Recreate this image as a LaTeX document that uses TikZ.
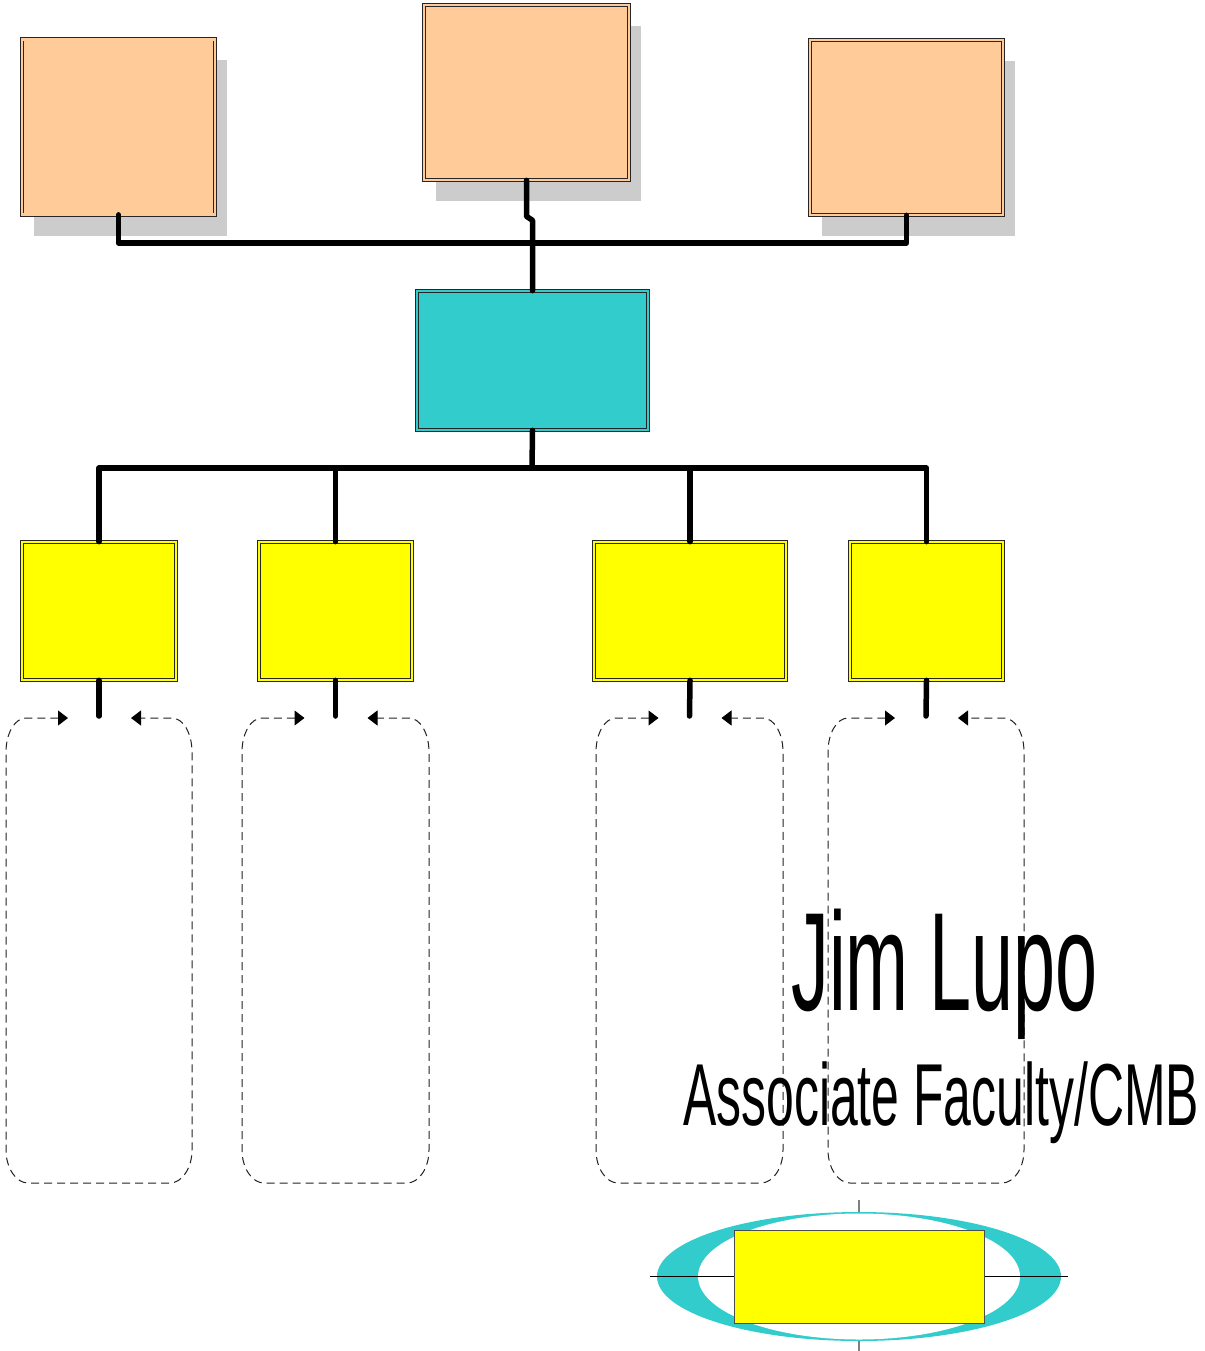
\documentclass[tikz,border=0pt]{standalone}
\usepackage{fontspec}
\setmainfont{Liberation Sans}
\usetikzlibrary{shadows,arrows.meta,calc}
\definecolor{peach}{HTML}{FFCC99}
\definecolor{teal}{HTML}{33CCCC}
\definecolor{lemon}{HTML}{FFFF00}
\definecolor{shade}{HTML}{CCCCCC}
\definecolor{lanegray}{HTML}{222222}
\tikzset{
  box/.style={rectangle, inner sep=0pt, draw=black!85, line width=0.7pt, double distance=2.6pt},
  peachbox/.style={box, fill=peach, double=peach,
    drop shadow={shadow xshift=12pt, shadow yshift=-21pt, fill=shade, opacity=1}},
  tealbox/.style={box, fill=teal, double=teal},
  lemonbox/.style={box, fill=lemon, double=lemon},
  conn/.style={line width=5.5pt, line cap=round, line join=round},
  lane/.style={draw=lanegray, line width=1pt, dash pattern=on 8pt off 5pt,
    {Triangle[length=10pt,width=15pt,black]}-{Triangle[length=10pt,width=15pt,black]}},
}
\begin{document}
\begin{tikzpicture}[x=1pt,y=-1pt]
\useasboundingbox (0,0) rectangle (1204,1351);

% upper tier
\node[peachbox, minimum width=193pt, minimum height=175pt] (tl) at (118.5,127) {};
\node[peachbox, minimum width=205pt, minimum height=175pt] (tc) at (526.5,92.5) {};
\node[peachbox, minimum width=193pt, minimum height=175pt] (tr) at (906.5,127.5) {};

% central box
\node[tealbox, minimum width=231pt, minimum height=139pt] (mid) at (532.5,360.5) {};

% lower tier
\node[lemonbox, minimum width=154pt, minimum height=138pt] (y1) at (99,611) {};
\node[lemonbox, minimum width=153pt, minimum height=138pt] (y2) at (335.5,611) {};
\node[lemonbox, minimum width=192pt, minimum height=138pt] (y3) at (690,611) {};
\node[lemonbox, minimum width=153pt, minimum height=138pt] (y4) at (926.5,611) {};

% upper bus
\coordinate (busT) at (532,243);
\draw[conn] (tl.south) |- (busT) -| (tr.south);
\draw[conn] (tc.south) -- ++(0,36) -- ++(6,4) -- (mid.north);

% lower bus
\coordinate (busB) at (532,468);
\draw[conn] (mid.south) -- (busB);
\draw[conn] (y1.north) |- (busB) -| (y4.north);
\draw[conn] (y2.north) -- (y2.north |- busB);
\draw[conn] (y3.north) -- (y3.north |- busB);

% stems and dashed lanes
\foreach \n/\cx/\hw in {y1/99/93, y2/335.5/93.5, y3/689.5/93.5, y4/926/98} {
  \coordinate (\n-end) at (\cx,716);
  \draw[conn] (\n.south) -- (\n-end);
  \draw[lane] (\cx-31,718) -- (\cx-\hw+20,718)
    .. controls (\cx-\hw+9,718) and (\cx-\hw,733) .. (\cx-\hw,752)
    -- (\cx-\hw,1150)
    .. controls (\cx-\hw,1168) and (\cx-\hw+10,1183) .. (\cx-\hw+22,1183)
    -- (\cx+\hw-22,1183)
    .. controls (\cx+\hw-10,1183) and (\cx+\hw,1168) .. (\cx+\hw,1150)
    -- (\cx+\hw,752)
    .. controls (\cx+\hw,733) and (\cx+\hw-9,718) .. (\cx+\hw-20,718)
    -- (\cx+32,718);
}

% name and title
\node[anchor=base west, inner sep=0pt] (name) at (791,1010)
  {\scalebox{0.54}[1]{\fontsize{140}{140}\selectfont Jim Lupo}};
\node[anchor=base west, inner sep=0pt] (title) at (683,1125)
  {\scalebox{0.567}[1]{\fontsize{88}{88}\selectfont Associate Faculty/CMB}};

% emblem
\draw[gray, line width=1.5pt] (859,1200) -- (859,1351);
\fill[teal] (859,1276.5) ellipse [x radius=202, y radius=64.5];
\fill[white] (859,1276.5) ellipse [x radius=161, y radius=63];
\draw[black, line width=1pt] (650,1276) -- (1068,1276);
\node[rectangle, draw=black!70, line width=1pt, fill=lemon, minimum width=250pt, minimum height=93pt] (emb) at (859,1276.5) {};
\end{tikzpicture}
\end{document}
